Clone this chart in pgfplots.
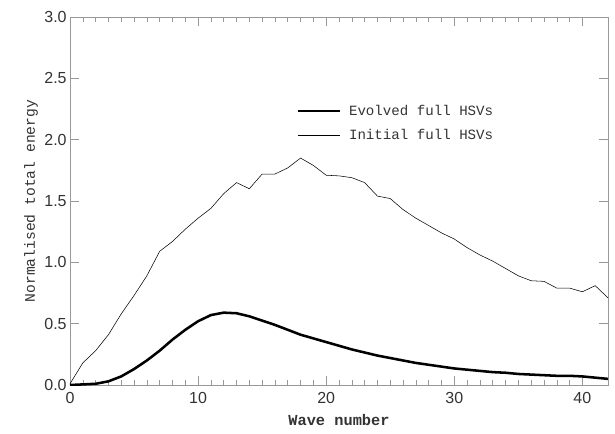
\documentclass[border=0pt]{standalone}
\usepackage{pgfplots}
\pgfplotsset{compat=1.18}
\usepackage{fontspec}
\setmainfont{Liberation Sans}
\newfontfamily\labelfont{Liberation Mono}
\usetikzlibrary{calc}
\definecolor{axgray}{rgb}{0.6,0.6,0.6}
\definecolor{thin}{rgb}{0.3,0.3,0.3}
\begin{document}
\begin{tikzpicture}[x=1pt,y=1pt]
\begin{axis}[
scale only axis,
width=403.5pt, height=276pt,
xmin=0, xmax=42,
ymin=0, ymax=3,
xtick={0,10,20,30,40},
minor x tick num=9,
ytick={0,0.5,1,1.5,2,2.5,3},
yticklabel style={xshift=1pt, /pgf/number format/.cd,fixed,fixed zerofill,precision=1},
/pgf/number format/assume math mode=true,
tick align=inside,
major tick length=6.5pt,
minor tick length=4pt,
axis line style={axgray},
every tick/.style={axgray},
ticklabel style={font=\fontsize{12}{14}\selectfont, text=black!80},
xticklabel style={yshift=-2pt},
xlabel={\labelfont\bfseries Wave number},
ylabel={\labelfont Normalised total energy},
label style={text=black!80},
xlabel style={font=\fontsize{11.5}{13}\selectfont, yshift=-1pt},
ylabel style={font=\fontsize{11}{13}\selectfont, yshift=-2pt},
legend style={at={(axis cs:17.4,2.33)}, anchor=north west, draw=none, fill=none,
  font=\labelfont\fontsize{10.6}{12}\selectfont, text=black!80, row sep=5pt,
  nodes={inner xsep=6pt}},
legend cell align={left},
legend image code/.code={\draw[#1] (0pt,0pt) -- (31pt,0pt);},
]
\addplot [line width=1.9pt, black] table {%
0 0.00
1 0.005
2 0.01
3 0.03
4 0.07
5 0.13
6 0.20
7 0.28
8 0.37
9 0.45
10 0.52
11 0.57
12 0.59
13 0.585
14 0.56
15 0.525
16 0.49
17 0.45
18 0.41
19 0.38
20 0.35
21 0.32
22 0.29
23 0.265
24 0.24
25 0.22
26 0.20
27 0.18
28 0.165
29 0.15
30 0.135
31 0.125
32 0.115
33 0.105
34 0.10
35 0.09
36 0.085
37 0.08
38 0.075
39 0.075
40 0.07
41 0.06
42 0.05
};
\addlegendentry{Evolved full HSVs}
\addplot [line width=0.8pt, thin] table {%
0 0.01
1 0.18
2 0.28
3 0.41
4 0.58
5 0.73
6 0.89
7 1.09
8 1.17
9 1.27
10 1.36
11 1.44
12 1.56
13 1.65
14 1.60
15 1.72
16 1.72
17 1.77
18 1.85
19 1.79
20 1.71
21 1.705
22 1.69
23 1.65
24 1.54
25 1.52
26 1.43
27 1.36
28 1.30
29 1.24
30 1.19
31 1.12
32 1.06
33 1.01
34 0.95
35 0.89
36 0.85
37 0.845
38 0.79
39 0.79
40 0.76
41 0.81
42 0.71
};
\addlegendentry{Initial full HSVs}
\end{axis}
\path ($(current axis.south west)+(-52.5pt,-36pt)$) rectangle ($(current axis.north east)+(5.25pt,12.75pt)$);
\end{tikzpicture}
\end{document}
